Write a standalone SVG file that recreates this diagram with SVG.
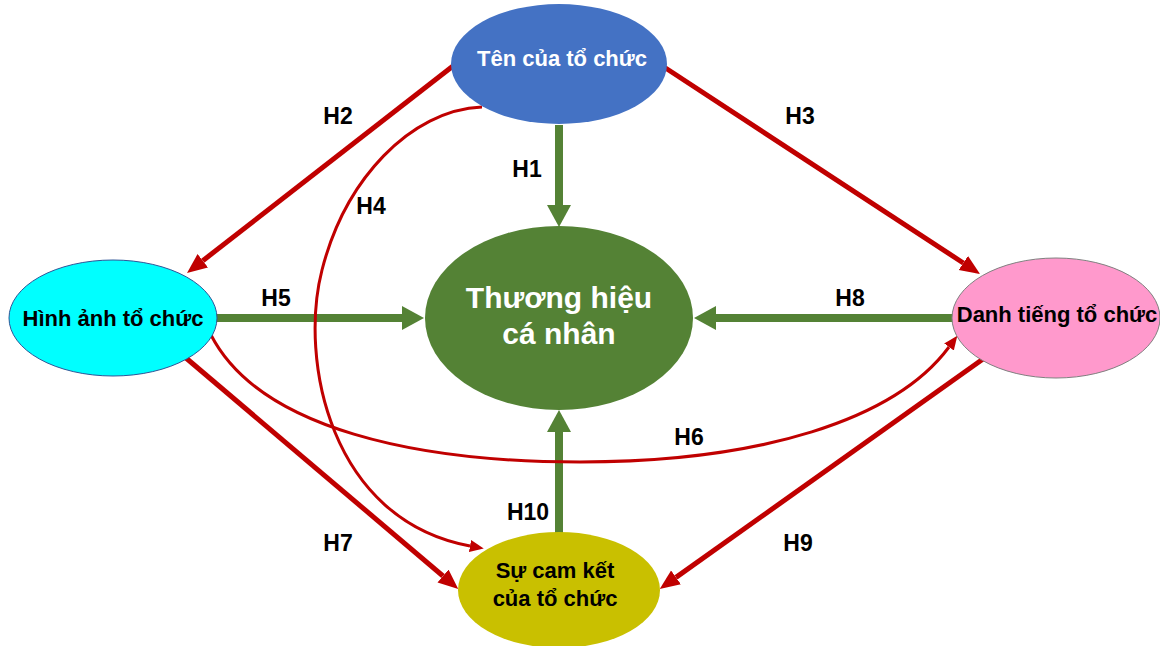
<svg xmlns="http://www.w3.org/2000/svg" width="1160" height="646" viewBox="0 0 1160 646">
<style>
.lbl{font-family:"Liberation Sans",Arial,sans-serif;font-weight:bold;font-size:23px;fill:#000;text-anchor:middle}
.nt{font-family:"Liberation Sans",Arial,sans-serif;font-weight:bold;font-size:22px;text-anchor:middle}
.ct{font-family:"Liberation Sans",Arial,sans-serif;font-weight:bold;font-size:30px;text-anchor:middle;fill:#fff}
.g{stroke:#548235;stroke-width:8;fill:none}
.r{stroke:#C00000;stroke-width:5;fill:none}
.rt{stroke:#C00000;stroke-width:3;fill:none}
</style>
<defs>
<marker id="ag" markerUnits="userSpaceOnUse" markerWidth="24" markerHeight="26" refX="0" refY="12" orient="auto"><path d="M0,0 L22,12 L0,24 z" fill="#548235"/></marker>
<marker id="ar" markerUnits="userSpaceOnUse" markerWidth="22" markerHeight="18" refX="0" refY="8.5" orient="auto"><path d="M0,0 L20,8.5 L0,17 z" fill="#C00000"/></marker>
<marker id="art" markerUnits="userSpaceOnUse" markerWidth="16" markerHeight="14" refX="0" refY="6" orient="auto"><path d="M0,0 L14,6 L0,12 z" fill="#C00000"/></marker>
</defs>
<rect width="1160" height="646" fill="#fff"/>
<g id="connectors">
<line class="g" x1="559" y1="125" x2="559" y2="205" marker-end="url(#ag)"/>
<line class="g" x1="215" y1="318" x2="402" y2="318" marker-end="url(#ag)"/>
<line class="g" x1="955" y1="318" x2="716" y2="318" marker-end="url(#ag)"/>
<line class="g" x1="559" y1="535" x2="559" y2="432" marker-end="url(#ag)"/>
<line class="r" x1="453" y1="66" x2="202.8" y2="260.7" marker-end="url(#ar)"/>
<line class="r" x1="664" y1="67" x2="963.3" y2="263" marker-end="url(#ar)"/>
<line class="r" x1="186" y1="358" x2="443" y2="576" marker-end="url(#ar)"/>
<line class="r" x1="983" y1="359" x2="676" y2="577.4" marker-end="url(#ar)"/>
<path class="rt" d="M482,107 C410,110 345,180 322,270 C299,360 330,520 470,546" marker-end="url(#art)"/>
<path class="rt" d="M211,335 C260,430 420,462 580,462 C760,462 895,420 949,347" marker-end="url(#art)"/>
</g>
<g id="node-ten">
<ellipse cx="559" cy="64" rx="108" ry="60" fill="#4472C4"/>
<text class="nt" x="562" y="66" fill="#fff">Tên của tổ chức</text>
</g>
<g id="node-hinhanh">
<ellipse cx="113" cy="318" rx="104" ry="58" fill="#00FFFF" stroke="#2F5597" stroke-width="1"/>
<text class="nt" x="113" y="326" fill="#000">Hình ảnh tổ chức</text>
</g>
<g id="node-danhtieng">
<ellipse cx="1056" cy="318" rx="104" ry="60" fill="#FF99CC" stroke="#808080" stroke-width="1"/>
<text class="nt" x="1057" y="322" fill="#000">Danh tiếng tổ chức</text>
</g>
<g id="node-thuonghieu">
<ellipse cx="559" cy="318" rx="134" ry="92" fill="#548235"/>
<text class="ct" x="559" y="308">Thương hiệu</text>
<text class="ct" x="559" y="344">cá nhân</text>
</g>
<g id="node-camket">
<ellipse cx="559" cy="590" rx="101" ry="58" fill="#C9C000"/>
<text class="nt" x="555" y="578" fill="#000">Sự cam kết</text>
<text class="nt" x="555" y="606" fill="#000">của tổ chức</text>
</g>
<g id="labels">
<text class="lbl" x="338" y="124">H2</text>
<text class="lbl" x="800" y="124">H3</text>
<text class="lbl" x="527" y="177">H1</text>
<text class="lbl" x="371" y="214">H4</text>
<text class="lbl" x="276" y="306">H5</text>
<text class="lbl" x="850" y="306">H8</text>
<text class="lbl" x="689" y="445">H6</text>
<text class="lbl" x="528" y="520">H10</text>
<text class="lbl" x="338" y="551">H7</text>
<text class="lbl" x="798" y="551">H9</text>
</g>
</svg>
